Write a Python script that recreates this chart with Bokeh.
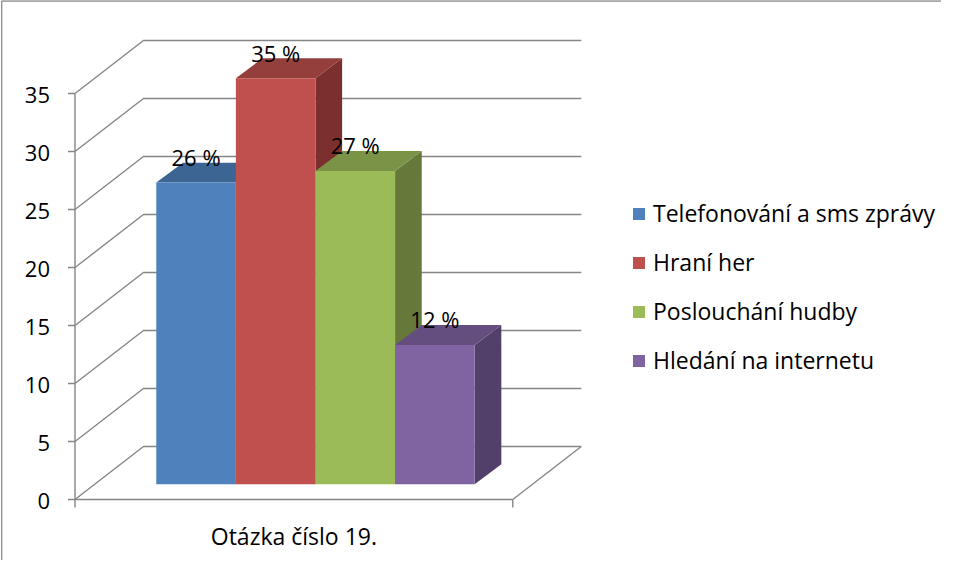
from bokeh.plotting import figure
from bokeh.models import Range1d, Legend, LegendItem, ColumnDataSource
from bokeh.core.properties import value
from bokeh.embed import file_html
from bokeh.resources import INLINE

# ---------------- data ----------------
categories = ["Telefonování a sms zprávy", "Hraní her", "Poslouchání hudby", "Hledání na internetu"]
values = [26, 35, 27, 12]
value_labels = ["26 %", "35 %", "27 %", "12 %"]
y_ticks = [0, 5, 10, 15, 20, 25, 30, 35]
y_tick_labels = ["0", "5", "10", "15", "20", "25", "30", "35"]
x_category = "Otázka číslo 19."

front_colors = ["#4F81BD", "#C0504D", "#9BBB59", "#8064A2"]
top_colors = ["#3D6594", "#953F3C", "#7A9347", "#644E80"]
side_colors = ["#32537A", "#7B302E", "#66793A", "#52406A"]

# ---------------- layout / style ----------------
FONT = "Open Sans"
GRID = "#868686"
W, H = 941, 560
ORIGIN_X, ORIGIN_Y = 74.5, 499   # px of the value-axis origin inside the figure (from left / top)
PX_X, PX_Y = 79.6, 11.6          # px per data unit (x: one bar width, y: one value unit)
FLOOR = 5.5                      # front floor length in bar widths
DX, DY = 0.86, 4.57              # depth of back wall
BAR_X0 = 1.021                   # front-left corner of first bar
BAR_Y0 = 1.32                    # front plane of the bars (perspective lift)
BDX, BDY = 0.335, 1.72           # bar depth
TICK = 7                         # px
LABEL_GAP = 25                   # px from axis to right edge of tick labels
LABEL_DROP = 1.6                 # px from tick to centre of its label
CAT_DROP = 36                    # px from floor line to centre of category label
VAL_RISE = 5.7                   # px from back top edge of a bar to centre of its label

ux, uy = 1.0 / PX_X, 1.0 / PX_Y
x0, x1 = -ORIGIN_X * ux, (W - ORIGIN_X) * ux
y0, y1 = -(H - ORIGIN_Y) * uy, ORIGIN_Y * uy

p = figure(width=W, height=H, x_range=Range1d(x0, x1), y_range=Range1d(y0, y1),
           x_axis_type=None, y_axis_type=None, toolbar_location=None,
           output_backend="svg", min_border=0)
p.outline_line_color = None
p.background_fill_color = "white"
p.border_fill_color = "white"
p.grid.visible = False

# chart-area border (top and left edges visible)
p.multi_line([[x0 + 1.2 * ux, x0 + 1.2 * ux, x1], [x0 + 1.2 * ux, x1]],
             [[y0, y1 - 0.4 * uy, y1 - 0.4 * uy], [y1 - 0.4 * uy, y1 - 0.4 * uy]],
             line_color="#8c8c8c", line_width=1.3)

# back wall gridlines and right floor edge
gx = [[0, DX, FLOOR + DX] for t in y_ticks] + [[FLOOR, FLOOR + DX]]
gy = [[t, t + DY, t + DY] for t in y_ticks] + [[0, DY]]
p.multi_line(gx, gy, line_color=GRID, line_width=1.4)

# value axis
p.segment(x0=[0], y0=[min(y_ticks)], x1=[0], y1=[max(y_ticks)], line_color=GRID, line_width=1.4)
p.segment(x0=[-TICK * ux] * len(y_ticks), y0=y_ticks, x1=[0] * len(y_ticks), y1=y_ticks,
          line_color=GRID, line_width=1.4)
p.text(x=[-LABEL_GAP * ux] * len(y_ticks), y=[t - LABEL_DROP * uy for t in y_ticks],
       text=y_tick_labels, text_align="right", text_baseline="middle",
       text_font=value(FONT), text_font_size="22px", text_color="black")

# category axis
p.segment(x0=[0], y0=[0], x1=[FLOOR], y1=[0], line_color=GRID, line_width=1.4)
p.segment(x0=[0, FLOOR], y0=[0, 0], x1=[0, FLOOR], y1=[-8 * uy, -8 * uy],
          line_color=GRID, line_width=1.4)
p.text(x=[FLOOR / 2], y=[-CAT_DROP * uy], text=[x_category],
       text_align="center", text_baseline="middle",
       text_font=value(FONT), text_font_size="23px", text_color="black")

# bars
n = len(values)
L = [BAR_X0 + i for i in range(n)]
R = [l + 1 for l in L]
B = [BAR_Y0] * n
T = [BAR_Y0 + v for v in values]

side_xs = [[r, r, r + BDX, r + BDX] for r in R]
side_ys = [[b, t, t + BDY, b + BDY] for b, t in zip(B, T)]
top_xs = [[l, r, r + BDX, l + BDX] for l, r in zip(L, R)]
top_ys = [[t, t, t + BDY, t + BDY] for t in T]

p.patches(side_xs, side_ys, fill_color=side_colors, line_color=None)
p.patches(top_xs, top_ys, fill_color=top_colors, line_color=None)

src = ColumnDataSource(dict(left=L, right=R, bottom=B, top=T, color=front_colors,
                            name=categories))
front = p.quad(left="left", right="right", bottom="bottom", top="top",
               fill_color="color", line_color=None, source=src)

# value labels
p.text(x=[l + 0.5 for l in L], y=[t + BDY + VAL_RISE * uy for t in T], text=value_labels,
       text_align="center", text_baseline="middle",
       text_font=value(FONT), text_font_size="22px", text_color="black")

# legend
legend = Legend(items=[LegendItem(label=c, renderers=[front], index=i)
                       for i, c in enumerate(categories)],
                location=(631, 184), orientation="vertical",
                glyph_width=15, glyph_height=15, label_standoff=7,
                spacing=17, label_height=31, padding=0, margin=0,
                border_line_color=None, background_fill_alpha=0,
                label_text_font=FONT, label_text_font_size="23px",
                label_text_color="black")
p.add_layout(legend)

open("out.html", "w").write(file_html(p, INLINE))
